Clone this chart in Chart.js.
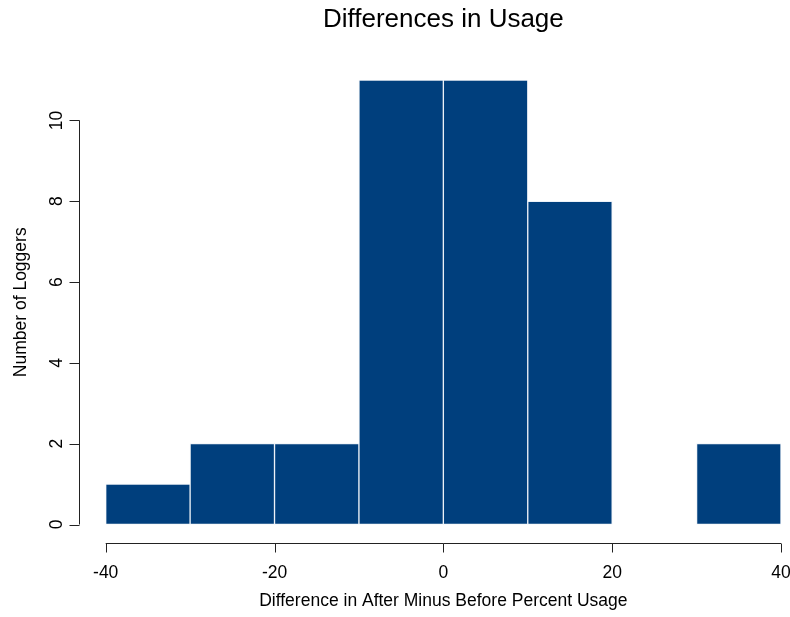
<!DOCTYPE html>
<html lang="en">
<head>
    <meta charset="UTF-8">
    <title>Differences in Usage</title>
    <script src="https://cdn.jsdelivr.net/npm/chart.js"></script>
    <style>
        html, body {
            margin: 0;
            padding: 0;
            background: #fff;
        }
        #wrap {
            width: 790px;
            height: 617px;
        }
    </style>
</head>
<body>
    <div id="wrap"><canvas id="histCanvas" width="790" height="617"></canvas></div>

    <script>
        // histogram bins (10 wide) and counts
        let binStarts = [-40, -30, -20, -10, 0, 10, 20, 30];
        let binWidth = 10;
        let counts = [1, 2, 2, 11, 11, 8, 0, 2];

        let xTicks = [-40, -20, 0, 20, 40];
        let yTicks = [0, 2, 4, 6, 8, 10];

        let chartTitle = "Differences in Usage";
        let xTitle = "Difference in After Minus Before Percent Usage";
        let yTitle = "Number of Loggers";

        let fontFamily = "'Liberation Sans', Arial, sans-serif";

        // R-style detached axes, drawn from the chart's own scales
        const baseAxes = {
            id: "baseAxes",
            afterDraw(chart) {
                let ctx = chart.ctx;
                let xs = chart.scales.x;
                let ys = chart.scales.y;
                ctx.save();
                ctx.strokeStyle = "#222";
                ctx.fillStyle = "#000";
                ctx.lineWidth = 1;

                // x axis
                let axY = 543.5;
                ctx.beginPath();
                ctx.moveTo(xs.getPixelForValue(xTicks[0]), axY);
                ctx.lineTo(xs.getPixelForValue(xTicks[xTicks.length - 1]), axY);
                xTicks.forEach(t => {
                    let px = Math.round(xs.getPixelForValue(t)) + 0.5;
                    ctx.moveTo(px, axY);
                    ctx.lineTo(px, axY + 9);
                });
                ctx.stroke();

                ctx.font = "17.5px " + fontFamily;
                ctx.textAlign = "center";
                ctx.textBaseline = "alphabetic";
                xTicks.forEach(t => {
                    ctx.fillText(String(t), xs.getPixelForValue(t), 578);
                });

                // y axis
                let axX = 79.5;
                ctx.beginPath();
                ctx.moveTo(axX, ys.getPixelForValue(yTicks[0]));
                ctx.lineTo(axX, ys.getPixelForValue(yTicks[yTicks.length - 1]));
                yTicks.forEach(t => {
                    let py = Math.round(ys.getPixelForValue(t)) + 0.5;
                    ctx.moveTo(axX, py);
                    ctx.lineTo(axX - 10, py);
                });
                ctx.stroke();

                yTicks.forEach(t => {
                    ctx.save();
                    ctx.translate(61.5, ys.getPixelForValue(t));
                    ctx.rotate(-Math.PI / 2);
                    ctx.fillText(String(t), 0, 0);
                    ctx.restore();
                });

                // axis titles
                ctx.fillText(xTitle, (xs.left + xs.right) / 2, 606);
                ctx.save();
                ctx.translate(26, ys.getPixelForValue(5.5));
                ctx.rotate(-Math.PI / 2);
                ctx.fillText(yTitle, 0, 0);
                ctx.restore();

                // main title
                ctx.font = "26px " + fontFamily;
                ctx.fillText(chartTitle, (xs.left + xs.right) / 2, 27);
                ctx.restore();
            }
        };

        let ctx = document.getElementById("histCanvas").getContext("2d");
        new Chart(ctx, {
            type: "bar",
            data: {
                datasets: [{
                    label: "Loggers",
                    data: binStarts.map((b, i) => ({ x: b + binWidth / 2, y: counts[i] })),
                    backgroundColor: "#003f7d",
                    borderColor: "rgba(235, 240, 247, 0.95)",
                    borderWidth: 1,
                    borderSkipped: false,
                    barPercentage: 1,
                    categoryPercentage: 1
                }]
            },
            options: {
                responsive: false,
                animation: false,
                layout: {
                    padding: { left: 105.7, right: 9, top: 80, bottom: 92.5 }
                },
                plugins: {
                    legend: { display: false },
                    tooltip: { enabled: false },
                    title: { display: false }
                },
                scales: {
                    x: {
                        type: "linear",
                        min: -40,
                        max: 40,
                        offset: false,
                        display: false
                    },
                    y: {
                        min: 0,
                        max: 11,
                        display: false
                    }
                }
            },
            plugins: [baseAxes]
        });
    </script>
</body>
</html>
